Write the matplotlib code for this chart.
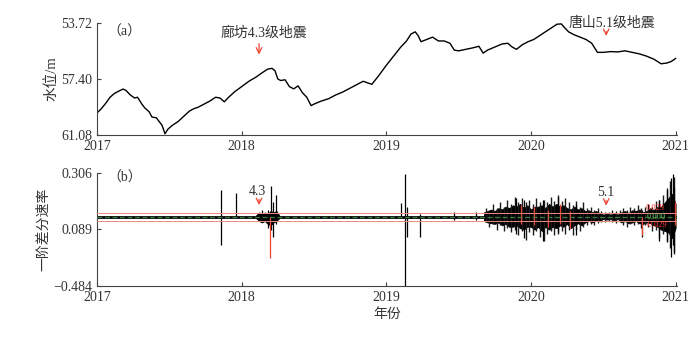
import matplotlib
matplotlib.use("Agg")
import matplotlib.pyplot as plt
import numpy as np

plt.rcParams['font.family'] = ['Liberation Serif', 'Noto Sans CJK SC', 'DejaVu Sans']
plt.rcParams['axes.unicode_minus'] = True

# (a) water level, m (depth, axis inverted)
level_t = [2017.00, 2017.03, 2017.06, 2017.09, 2017.12, 2017.15, 2017.18, 2017.20, 2017.23, 2017.26,
           2017.28, 2017.31, 2017.33, 2017.36, 2017.38, 2017.41, 2017.43, 2017.45, 2017.47, 2017.49,
           2017.52, 2017.56, 2017.60, 2017.64, 2017.67, 2017.70, 2017.74, 2017.78, 2017.82, 2017.85,
           2017.88, 2017.91, 2017.95, 2018.00, 2018.05, 2018.10, 2018.14, 2018.18, 2018.21, 2018.23,
           2018.25, 2018.27, 2018.30, 2018.33, 2018.36, 2018.39, 2018.42, 2018.45, 2018.48, 2018.50,
           2018.55, 2018.60, 2018.65, 2018.70, 2018.75, 2018.80, 2018.84, 2018.87, 2018.90, 2018.95,
           2019.00, 2019.05, 2019.10, 2019.14, 2019.17, 2019.20, 2019.22, 2019.24, 2019.28, 2019.32,
           2019.36, 2019.40, 2019.44, 2019.47, 2019.50, 2019.55, 2019.60, 2019.64, 2019.67, 2019.70,
           2019.75, 2019.80, 2019.84, 2019.87, 2019.90, 2019.94, 2019.98, 2020.02, 2020.06, 2020.10,
           2020.14, 2020.18, 2020.21, 2020.23, 2020.26, 2020.30, 2020.34, 2020.38, 2020.42, 2020.46,
           2020.50, 2020.55, 2020.60, 2020.65, 2020.70, 2020.75, 2020.80, 2020.85, 2020.90, 2020.94,
           2020.97, 2021.00]
level_m = [59.63, 59.35, 59.00, 58.60, 58.35, 58.20, 58.06, 58.15, 58.45, 58.65,
           58.60, 59.05, 59.30, 59.55, 59.90, 59.95, 60.20, 60.45, 61.00, 60.70,
           60.45, 60.20, 59.85, 59.50, 59.35, 59.25, 59.05, 58.85, 58.60, 58.65,
           58.90, 58.60, 58.25, 57.90, 57.55, 57.27, 57.00, 56.75, 56.70, 56.85,
           57.40, 57.50, 57.45, 57.90, 58.05, 57.85, 58.30, 58.60, 59.15, 59.05,
           58.85, 58.70, 58.45, 58.25, 58.00, 57.75, 57.55, 57.65, 57.75, 57.15,
           56.50, 55.90, 55.30, 54.90, 54.45, 54.30, 54.55, 54.95, 54.80, 54.65,
           54.90, 54.90, 55.05, 55.50, 55.55, 55.45, 55.35, 55.25, 55.70, 55.50,
           55.30, 55.10, 55.05, 55.30, 55.45, 55.15, 54.95, 54.80, 54.55, 54.30,
           54.05, 53.80, 53.78, 54.00, 54.30, 54.50, 54.65, 54.80, 55.05, 55.65,
           55.65, 55.60, 55.62, 55.55, 55.65, 55.75, 55.90, 56.10, 56.40, 56.35,
           56.25, 56.05]

# (b) first-difference rate: dense noisy band (envelope)
band_t = [2019.675, 2019.700, 2019.725, 2019.750, 2019.775, 2019.800, 2019.825, 2019.850, 2019.875, 2019.900,
          2019.925, 2019.950, 2019.975, 2020.000, 2020.025, 2020.050, 2020.075, 2020.100, 2020.125, 2020.150,
          2020.175, 2020.200, 2020.225, 2020.250, 2020.275, 2020.300, 2020.325, 2020.350, 2020.375, 2020.400,
          2020.425, 2020.450, 2020.475, 2020.500, 2020.525, 2020.550, 2020.575, 2020.600, 2020.625, 2020.650,
          2020.675, 2020.700, 2020.725, 2020.750, 2020.775, 2020.800, 2020.825, 2020.850, 2020.875, 2020.900,
          2020.925, 2020.950, 2020.975, 2021.000]
band_hi = [0.03, 0.04, 0.05, 0.04, 0.06, 0.05, 0.07, 0.06, 0.08, 0.07,
           0.09, 0.06, 0.08, 0.05, 0.07, 0.07, 0.08, 0.06, 0.09, 0.07,
           0.09, 0.07, 0.08, 0.06, 0.05, 0.07, 0.05, 0.06, 0.04, 0.045,
           0.03, 0.04, 0.025, 0.015, 0.02, 0.015, 0.025, 0.015, 0.03, 0.04,
           0.025, 0.045, 0.04, 0.05, 0.03, 0.04, 0.06, 0.045, 0.07, 0.07,
           0.10, 0.13, 0.16, 0.09]
band_lo = [-0.03, -0.04, -0.045, -0.05, -0.04, -0.06, -0.05, -0.07, -0.07, -0.06,
           -0.08, -0.09, -0.07, -0.07, -0.09, -0.07, -0.10, -0.07, -0.09, -0.07,
           -0.08, -0.06, -0.07, -0.05, -0.08, -0.06, -0.045, -0.06, -0.04, -0.03,
           -0.04, -0.025, -0.03, -0.015, -0.02, -0.015, -0.025, -0.015, -0.04, -0.03,
           -0.045, -0.04, -0.03, -0.045, -0.05, -0.04, -0.045, -0.06, -0.07, -0.09,
           -0.10, -0.11, -0.15, -0.08]

# spikes inside the band, between envelope points
mid_t = [2019.6875, 2019.7125, 2019.7375, 2019.7625, 2019.7875, 2019.8125, 2019.8375, 2019.8625, 2019.8875, 2019.9125,
         2019.9375, 2019.9625, 2019.9875, 2020.0125, 2020.0375, 2020.0625, 2020.0875, 2020.1125, 2020.1375, 2020.1625,
         2020.1875, 2020.2125, 2020.2375, 2020.2625, 2020.2875, 2020.3125, 2020.3375, 2020.3625, 2020.3875, 2020.4125,
         2020.4375, 2020.4625, 2020.4875, 2020.5125, 2020.5375, 2020.5625, 2020.5875, 2020.6125, 2020.6375, 2020.6625,
         2020.6875, 2020.7125, 2020.7375, 2020.7625, 2020.7875, 2020.8125, 2020.8375, 2020.8625, 2020.8875, 2020.9125,
         2020.9375, 2020.9625, 2020.9875]
mid_hi = [0.06, 0.04, 0.09, 0.06, 0.10, 0.07, 0.12, 0.09, 0.14, 0.10,
          0.13, 0.10, 0.12, 0.09, 0.13, 0.10, 0.12, 0.10, 0.14, 0.11,
          0.15, 0.11, 0.13, 0.10, 0.08, 0.11, 0.07, 0.10, 0.06, 0.07,
          0.05, 0.06, 0.04, 0.035, 0.03, 0.045, 0.04, 0.05, 0.06, 0.045,
          0.07, 0.06, 0.08, 0.06, 0.07, 0.09, 0.07, 0.11, 0.12, 0.15,
          0.20, 0.25, 0.28]
mid_lo = [-0.03, -0.07, -0.05, -0.09, -0.06, -0.10, -0.08, -0.11, -0.09, -0.13,
          -0.10, -0.16, -0.11, -0.13, -0.10, -0.14, -0.17, -0.12, -0.10, -0.13,
          -0.12, -0.10, -0.12, -0.09, -0.13, -0.09, -0.10, -0.07, -0.06, -0.05,
          -0.06, -0.045, -0.04, -0.035, -0.03, -0.04, -0.045, -0.035, -0.06, -0.07,
          -0.05, -0.06, -0.05, -0.08, -0.06, -0.07, -0.10, -0.09, -0.15, -0.12,
          -0.17, -0.22, -0.26]

# burst after the Langfang event
burst_t = [2018.10, 2018.12, 2018.14, 2018.16, 2018.18, 2018.20, 2018.22, 2018.24, 2018.26]
burst_hi = [0.01, 0.03, 0.02, 0.03, 0.02, 0.04, 0.03, 0.04, 0.01]
burst_lo = [-0.01, -0.03, -0.04, -0.03, -0.05, -0.06, -0.04, -0.03, -0.01]

# isolated spikes (black)
spike_t = [2017.855, 2017.96, 2018.14, 2018.18, 2018.20, 2018.215, 2018.24, 2019.105, 2019.13, 2019.145,
           2019.23, 2019.465, 2019.62, 2019.90, 2019.955, 2020.085, 2020.19, 2020.31, 2020.77, 2020.885,
           2020.94, 2020.965, 2020.98, 2020.99]
spike_hi = [0.187, 0.166, 0.05, 0.05, 0.215, 0.10, 0.15, 0.096, 0.300, 0.07,
            0.02, 0.03, 0.03, 0.13, 0.12, 0.12, 0.14, 0.09, 0.05, 0.12,
            0.19, 0.27, 0.30, 0.20]
spike_lo = [-0.197, 0.0, -0.02, -0.08, -0.09, -0.14, -0.05, -0.01, -0.484, -0.14,
            -0.14, -0.02, -0.02, -0.12, -0.15, -0.17, -0.11, -0.13, -0.14, -0.17,
            -0.18, -0.28, -0.20, -0.25]

# red spikes
red_t = [2018.195, 2019.93, 2020.02, 2020.12, 2020.20, 2020.27, 2020.77, 2020.995]
red_hi = [0.0, 0.08, 0.07, 0.05, 0.09, 0.04, 0.0, 0.10]
red_lo = [-0.288, -0.05, -0.06, -0.07, -0.05, -0.08, -0.13, -0.06]

threshold = 0.029
mean_rate = 0.0

year_ticks = [2017, 2018, 2019, 2020, 2021]
rate_ticks = [-0.484, -0.089, 0.306]
rate_labels = ['\u22120.484', '0.089', '0.306']
level_ticks = [53.72, 57.40, 61.08]

txt = '#333333'
red = '#ee4433'
green = '#3d7a3d'

fig = plt.figure(figsize=(7, 3.5), dpi=100)
ax1 = fig.add_axes([0.1386, 0.6143, 0.8286, 0.32])
ax2 = fig.add_axes([0.1386, 0.1829, 0.8286, 0.323])

for ax in (ax1, ax2):
    ax.spines['top'].set_visible(False)
    ax.spines['right'].set_visible(False)
    ax.spines['left'].set_color('#444444')
    ax.spines['bottom'].set_color('#444444')
    ax.tick_params(direction='in', length=3, width=0.8, colors='#444444',
                   labelcolor=txt, labelsize=10)
    ax.set_xlim(2017, 2021.01)
    ax.set_xticks(year_ticks)
    ax.set_xticklabels([str(y) for y in year_ticks])

# panel (a)
ax1.plot(level_t, level_m, color='black', lw=1.0)
ax1.set_ylim(61.08, 53.72)
ax1.set_yticks(level_ticks)
ax1.set_yticklabels(['%.2f' % v for v in level_ticks])
ax1.set_ylabel('水位/m', fontsize=10.5, color=txt, labelpad=2)
ax1.text(2017.19, 54.31, '（a）', fontsize=10, color=txt, ha='center', va='center')
ax1.text(2018.155, 54.40, '廊坊4.3级地震', fontsize=10, color=txt, ha='center', va='center')
ax1.annotate('', xy=(2018.12, 55.98), xytext=(2018.12, 54.90),
             arrowprops=dict(arrowstyle='->', color=red, lw=0.9))
ax1.text(2020.56, 53.75, '唐山5.1级地震', fontsize=10, color=txt, ha='center', va='center',
         clip_on=False)
ax1.annotate('', xy=(2020.52, 54.75), xytext=(2020.52, 54.10),
             arrowprops=dict(arrowstyle='->', color=red, lw=0.9))

# panel (b)
ax2.set_ylim(-0.484, 0.306)
ax2.set_yticks(rate_ticks)
ax2.set_yticklabels(rate_labels)
ax2.set_ylabel('一阶差分速率', fontsize=10, color=txt, labelpad=2)
ax2.set_xlabel('年份', fontsize=10, color=txt, labelpad=3)

ax2.axhline(mean_rate, color='black', lw=2.0, zorder=1)
ax2.fill_between(burst_t, burst_lo, burst_hi, color='black', lw=0.6, zorder=2)
ax2.fill_between(band_t, band_lo, band_hi, color='black', lw=0.6, zorder=2)
ax2.vlines(mid_t, mid_lo, mid_hi, color='#1a1a1a', lw=1.0, zorder=2)
ax2.vlines(spike_t, spike_lo, spike_hi, color='black', lw=0.9, zorder=3)
ax2.vlines(red_t, red_lo, red_hi, color=red, lw=0.9, zorder=4)
ax2.axhline(threshold, color='#f08a80', lw=0.7, zorder=5)
ax2.axhline(-threshold, color='#f08a80', lw=0.7, zorder=5)
ax2.axhline(mean_rate, color=green, lw=0.9, ls='--', dashes=(4, 2), zorder=5)
ax2.text(2020.79, threshold + 0.002, '%.3f' % threshold, fontsize=6, color='#ff3030',
         va='bottom', zorder=6)
ax2.text(2020.80, mean_rate, '%.3f' % mean_rate, fontsize=6, color='#5cb85c',
         va='center', zorder=6)
ax2.text(2020.79, -threshold - 0.002, '-%.3f' % threshold, fontsize=6, color='#ff3030',
         va='top', zorder=6)

ax2.text(2017.19, 0.271, '（b）', fontsize=10, color=txt, ha='center', va='center')
ax2.text(2018.11, 0.173, '4.3', fontsize=10, color=txt, ha='center', va='center')
ax2.annotate('', xy=(2018.12, 0.062), xytext=(2018.12, 0.140),
             arrowprops=dict(arrowstyle='->', color=red, lw=0.9))
ax2.text(2020.515, 0.166, '5.1', fontsize=10, color=txt, ha='center', va='center')
ax2.annotate('', xy=(2020.52, 0.058), xytext=(2020.52, 0.132),
             arrowprops=dict(arrowstyle='->', color=red, lw=0.9))

fig.savefig('out.png', dpi=100)
